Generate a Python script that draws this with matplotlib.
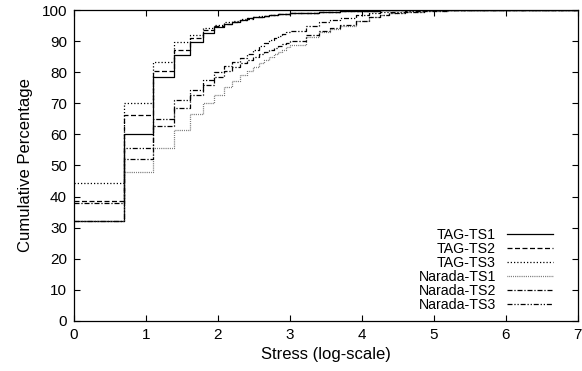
import matplotlib
matplotlib.use('Agg')
import matplotlib.pyplot as plt
import numpy as np

plt.rcParams['font.family'] = ['Liberation Sans', 'DejaVu Sans']

# stress values (integer), plotted as ln(stress)
stress = [1, 2, 3, 4, 5, 6, 7, 8, 9, 10, 11, 12, 13, 14, 15, 16, 17, 18, 19, 20,
          25, 30, 35, 40, 50, 60, 70, 80, 100, 130, 180, 250, 1100]

tag_ts1 = [32.0, 60.0, 78.6, 85.5, 89.6, 92.6, 94.4, 95.5, 96.2, 96.8, 97.3, 97.6, 97.9, 98.1, 98.3, 98.5, 98.6, 98.7, 98.8, 98.9,
           99.2, 99.4, 99.5, 99.6, 99.7, 99.8, 99.85, 99.9, 99.95, 100, 100, 100, 100]
tag_ts2 = [38.5, 66.2, 80.5, 87.3, 91.0, 93.6, 94.8, 95.6, 96.3, 96.8, 97.2, 97.6, 97.9, 98.1, 98.3, 98.5, 98.6, 98.7, 98.8, 98.9,
           99.2, 99.4, 99.5, 99.6, 99.7, 99.8, 99.85, 99.9, 99.95, 100, 100, 100, 100]
tag_ts3 = [44.5, 70.2, 83.2, 89.8, 92.0, 94.1, 95.2, 96.0, 96.6, 97.1, 97.5, 97.8, 98.0, 98.2, 98.4, 98.5, 98.6, 98.7, 98.8, 98.9,
           99.2, 99.4, 99.5, 99.6, 99.7, 99.8, 99.85, 99.9, 99.95, 100, 100, 100, 100]
narada_ts1 = [32.0, 48.0, 55.6, 61.3, 66.4, 70.0, 72.7, 75.3, 77.3, 79.0, 80.5, 81.8, 83.0, 84.0, 85.0, 85.8, 86.6, 87.3, 88.0, 88.6,
              91.2, 92.8, 94.0, 95.0, 96.5, 97.7, 98.4, 99.0, 99.5, 99.8, 99.9, 100, 100]
narada_ts2 = [37.8, 52.0, 62.6, 68.4, 72.8, 76.0, 78.5, 80.5, 81.8, 83.0, 84.0, 85.0, 85.8, 86.5, 87.2, 87.8, 88.4, 89.0, 89.5, 90.0,
              92.0, 93.3, 94.3, 95.2, 96.6, 97.8, 98.5, 99.0, 99.5, 99.8, 99.9, 100, 100]
narada_ts3 = [32.2, 55.7, 65.0, 71.0, 74.4, 77.5, 80.0, 82.0, 83.4, 84.6, 86.0, 87.2, 88.3, 89.3, 90.2, 91.0, 91.7, 92.3, 92.8, 93.3,
              95.0, 96.0, 96.8, 97.5, 98.4, 99.0, 99.3, 99.5, 99.7, 99.85, 99.95, 100, 100]

labels = ['TAG-TS1', 'TAG-TS2', 'TAG-TS3', 'Narada-TS1', 'Narada-TS2', 'Narada-TS3']
series = [tag_ts1, tag_ts2, tag_ts3, narada_ts1, narada_ts2, narada_ts3]
styles = [('-', 'black'),
          ((0, (4, 2)), 'black'),
          ((0, (1, 1.6)), 'black'),
          ((0, (0.6, 0.9)), '#555555'),
          ((0, (4, 1.5, 1, 1.5)), 'black'),
          ((0, (4, 1.5, 1, 1.5, 1, 1.5)), 'black')]

x = np.log(stress)

fig = plt.figure(figsize=(5.82, 3.71), dpi=100)
ax = fig.add_axes([0.127, 0.135, 0.866, 0.838])

for lab, ys, (ls, c) in zip(labels, series, styles):
    ax.step(x, ys, where='post', linestyle=ls, color=c, linewidth=0.9, label=lab)

ax.set_xlim(0, 7)
ax.set_ylim(0, 100)
ax.set_xticks(range(0, 8))
ax.set_yticks(range(0, 101, 10))
ax.tick_params(direction='in', top=True, right=True, length=4.5, width=0.8, labelsize=11, pad=5)
for s in ax.spines.values():
    s.set_linewidth(0.9)

ax.set_xlabel('Stress (log-scale)', fontsize=12, labelpad=4)
ax.set_ylabel('Cumulative Percentage', fontsize=12, labelpad=6)

ax.legend(loc='lower right', bbox_to_anchor=(0.968, 0.0), frameon=False, markerfirst=False,
          fontsize=10.2, handlelength=3.2, labelspacing=0.0, borderaxespad=0.25, handletextpad=0.8)

fig.savefig('out.png', dpi=100)
